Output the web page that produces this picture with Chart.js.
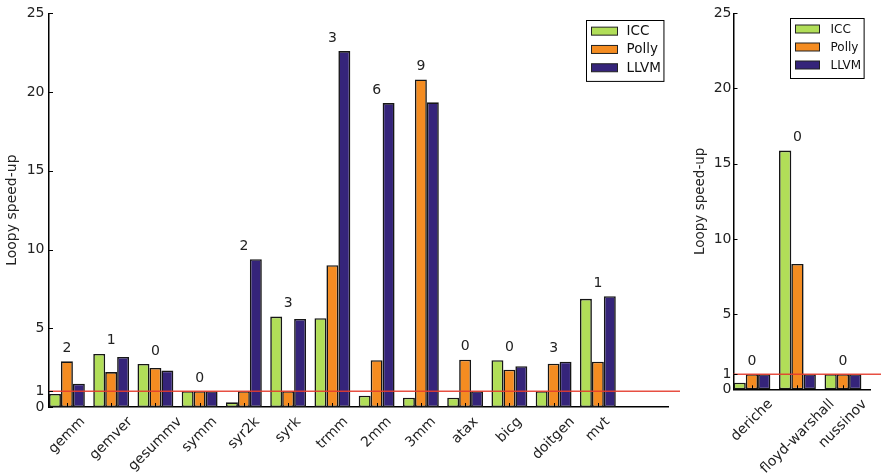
<!DOCTYPE html>
<html>
<head>
<meta charset="utf-8">
<script src="https://cdn.jsdelivr.net/npm/chart.js@4.4.1/dist/chart.umd.min.js"></script>
<style>
	body { margin: 0; background: #fff; }
	#left { position: absolute; left: 0; top: 0; }
	#right { position: absolute; left: 690px; top: 0; }
</style>
</head>
<body>
<canvas id="left" width="690" height="475"></canvas>
<canvas id="right" width="191" height="475"></canvas>
<script>
// values (speed-up of Loopy over each compiler)
var seriesNames = ["ICC", "Polly", "LLVM"];
var seriesColors = ["#b1de58", "#f48c21", "#35247a"];

var leftKernels = ["gemm", "gemver", "gesummv", "symm", "syr2k", "syrk", "trmm", "2mm", "3mm", "atax", "bicg", "doitgen", "mvt"];
var leftICC = [0.83, 3.37, 2.73, 1.0, 0.3, 5.74, 5.64, 0.72, 0.59, 0.59, 2.97, 1.0, 6.87];
var leftPolly = [2.9, 2.22, 2.48, 1.0, 1.0, 1.0, 9.0, 2.97, 20.8, 3.0, 2.37, 2.75, 2.88];
var leftLLVM = [1.48, 3.18, 2.31, 1.0, 9.39, 5.59, 22.6, 19.3, 19.35, 1.0, 2.59, 2.88, 7.04];
var leftCounts = [2, 1, 0, 0, 2, 3, 3, 6, 9, 0, 0, 3, 1];

var rightKernels = ["deriche", "floyd-warshall", "nussinov"];
var rightICC = [0.44, 15.87, 1.0];
var rightPolly = [1.0, 8.33, 1.0];
var rightLLVM = [1.0, 1.0, 1.0];
var rightCounts = [0, 0, 0];

var yTicks = [0, 1, 5, 10, 15, 20, 25];

Chart.defaults.font.family = "'DejaVu Sans'";
Chart.defaults.color = "#222";

// horizontal line at speed-up 1
var refLine = {
	id: "refLine",
	afterDatasetsDraw: function (chart, args, opts) {
		var ctx = chart.ctx, a = chart.chartArea;
		var py = chart.scales.y.getPixelForValue(1);
		ctx.save();
		ctx.strokeStyle = "rgba(228, 60, 45, 0.9)";
		ctx.lineWidth = 1.5;
		ctx.beginPath();
		ctx.moveTo(a.left, py);
		ctx.lineTo(a.right + opts.overhang, py);
		ctx.stroke();
		ctx.restore();
	},
};

// small numbers above each group
var groupCounts = {
	id: "groupCounts",
	afterDatasetsDraw: function (chart, args, opts) {
		var ctx = chart.ctx;
		var metas = chart.data.datasets.map(function (d, i) { return chart.getDatasetMeta(i); });
		ctx.save();
		ctx.font = "14px 'DejaVu Sans'";
		ctx.fillStyle = "#222";
		ctx.textAlign = "center";
		ctx.textBaseline = "alphabetic";
		opts.counts.forEach(function (c, j) {
			var top = Math.min.apply(null, metas.map(function (m) { return m.data[j].y; }));
			ctx.fillText(String(c), metas[1].data[j].x, top - 9.5);
		});
		ctx.restore();
	},
};

// inward tick marks like the original plot
var inTicks = {
	id: "inTicks",
	afterDatasetsDraw: function (chart) {
		var ctx = chart.ctx, a = chart.chartArea, x = chart.scales.x, y = chart.scales.y;
		ctx.save();
		ctx.strokeStyle = "#000";
		ctx.lineWidth = 1;
		ctx.beginPath();
		y.ticks.forEach(function (t) {
			var py = Math.round(y.getPixelForValue(t.value)) + 0.5;
			ctx.moveTo(a.left, py);
			ctx.lineTo(a.left + 4, py);
		});
		chart.data.labels.forEach(function (l, j) {
			var px = Math.round(x.getPixelForValue(j)) + 0.5;
			ctx.moveTo(px, a.bottom);
			ctx.lineTo(px, a.bottom - 4);
		});
		ctx.stroke();
		ctx.restore();
	},
};

// 45 degree labels centred under the tick (matplotlib style)
var slantLabels = {
	id: "slantLabels",
	afterDraw: function (chart, args, opts) {
		var ctx = chart.ctx, x = chart.scales.x, a = chart.chartArea;
		ctx.save();
		ctx.font = "14px 'DejaVu Sans'";
		ctx.fillStyle = "#222";
		ctx.textAlign = "center";
		ctx.textBaseline = "middle";
		chart.data.labels.forEach(function (lab, j) {
			var side = (ctx.measureText(lab).width + 16) * Math.SQRT1_2;
			ctx.save();
			ctx.translate(x.getPixelForValue(j), a.bottom + opts.pad + side / 2);
			ctx.rotate(-Math.PI / 4);
			ctx.fillText(lab, 0, 0);
			ctx.restore();
		});
		ctx.restore();
	},
};

// framed legend in the top right corner
var boxLegend = {
	id: "boxLegend",
	afterDraw: function (chart, args, opts) {
		var ctx = chart.ctx, a = chart.chartArea;
		var sets = chart.data.datasets;
		ctx.save();
		ctx.font = opts.size + "px 'DejaVu Sans'";
		var textW = Math.max.apply(null, sets.map(function (d) { return ctx.measureText(d.label).width; }));
		var w = opts.textX + textW + 3;
		var h = opts.row * 3 + 6;
		var x0 = Math.round(a.right - opts.right - w) + 0.5;
		var y0 = Math.round(a.top + opts.top) + 0.5;
		ctx.fillStyle = "#fff";
		ctx.fillRect(x0, y0, w, h);
		ctx.strokeStyle = "#000";
		ctx.lineWidth = 1;
		ctx.strokeRect(x0, y0, w, h);
		ctx.textBaseline = "middle";
		ctx.textAlign = "left";
		sets.forEach(function (d, i) {
			var cy = y0 + 1.5 + opts.row * (i + 0.5);
			ctx.fillStyle = d.backgroundColor;
			ctx.fillRect(x0 + 5, cy - 4, opts.swatch, 8);
			ctx.strokeStyle = "#222";
			ctx.strokeRect(x0 + 5, cy - 4, opts.swatch, 8);
			ctx.fillStyle = "#111";
			ctx.fillText(d.label, x0 + opts.textX, cy + 0.5);
		});
		ctx.restore();
	},
};

function makeChart(id, labels, icc, polly, llvm, counts, look) {
	var values = [icc, polly, llvm];
	var ctx = document.getElementById(id).getContext("2d");
	return new Chart(ctx, {
		type: "bar",
		data: {
			labels: labels,
			datasets: seriesNames.map(function (name, i) {
				return {
					label: name,
					data: values[i],
					backgroundColor: seriesColors[i],
					borderColor: "#161616",
					borderWidth: 1.6,
					borderSkipped: false,
					categoryPercentage: 0.81,
					barPercentage: 1.0,
				};
			}),
		},
		options: {
			responsive: false,
			animation: false,
			layout: {
				padding: { left: 0, top: 13.3, right: look.padRight, bottom: 0 },
			},
			scales: {
				x: {
					offset: true,
					grid: { display: false, drawTicks: false },
					border: { display: true, color: "#000", width: 1.5 },
					ticks: { display: false },
					afterBuildTicks: function (s) {
						// xlim like the original: groups start on whole numbers
						s._startValue = -0.405;
						s._valueRange = look.range;
					},
					afterFit: function (s) {
						s.height = look.xHeight;
					},
				},
				y: {
					min: 0,
					max: 25,
					grid: { display: false, drawTicks: false },
					border: { display: true, color: "#000", width: 1.5 },
					ticks: {
						font: { size: 14 },
						padding: look.tickPad,
						callback: function (v) { return String(v); },
					},
					afterBuildTicks: function (s) {
						s.ticks = yTicks.map(function (v) { return { value: v }; });
					},
					title: {
						display: true,
						text: "Loopy speed-up",
						font: { size: look.titleSize },
						padding: { top: look.titlePad, bottom: 0 },
					},
					afterFit: function (s) {
						s.width = look.yWidth;
					},
				},
			},
			plugins: {
				legend: { display: false },
				tooltip: { enabled: false },
				refLine: { overhang: look.overhang },
				groupCounts: { counts: counts },
				slantLabels: { pad: 7 },
				boxLegend: look.legend,
			},
		},
		plugins: [refLine, inTicks, groupCounts, slantLabels, boxLegend],
	});
}

makeChart("left", leftKernels, leftICC, leftPolly, leftLLVM, leftCounts, {
	padRight: 22,
	range: 13.99,
	xHeight: 68,
	yWidth: 49,
	tickPad: 4.5,
	titleSize: 14,
	titlePad: 4,
	overhang: 12,
	legend: { size: 13.5, row: 18.3, swatch: 26, textX: 40, right: 5, top: 6.7 },
});

makeChart("right", rightKernels, rightICC, rightPolly, rightLLVM, rightCounts, {
	padRight: 10.5,
	range: 3.01,
	xHeight: 85.7,
	yWidth: 43.5,
	tickPad: 2,
	titleSize: 13.5,
	titlePad: 2,
	overhang: 11,
	legend: { size: 12, row: 18, swatch: 24, textX: 40, right: 6.5, top: 5 },
});
</script>
</body>
</html>
